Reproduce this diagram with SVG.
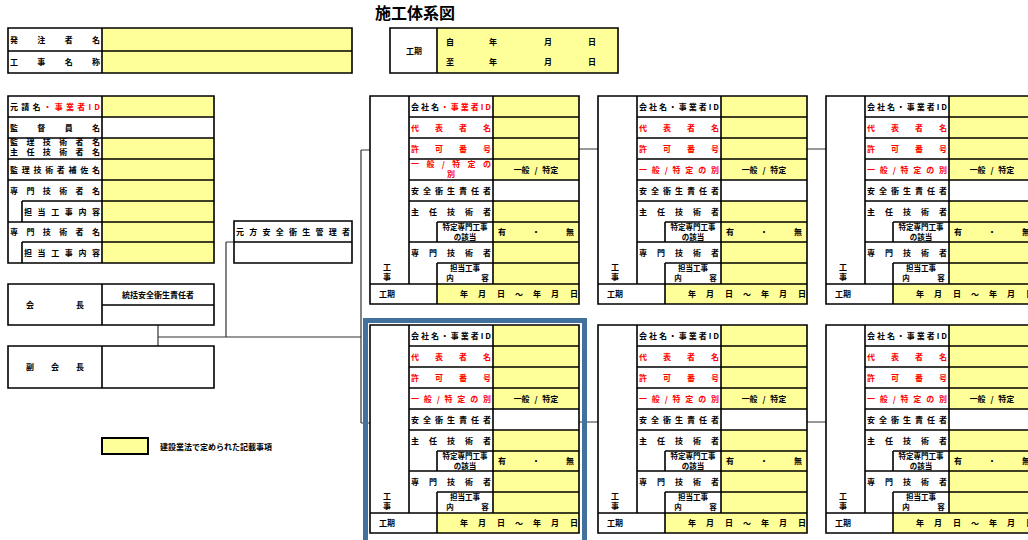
<svg xmlns="http://www.w3.org/2000/svg" xmlns:xlink="http://www.w3.org/1999/xlink" width="1028" height="540" viewBox="0 0 1028 540">
<style>
.t{font-family:"Noto Sans CJK JP","Noto Sans CJK SC",sans-serif;font-size:8px;font-weight:bold;fill:#000}
.s{font-size:7.5px}
.c{text-anchor:middle}
.r{fill:#ff0000}
.ws{word-spacing:3px}
.title{font-family:"Noto Sans CJK JP","Noto Sans CJK SC",sans-serif;font-size:16px;font-weight:bold;fill:#000;text-anchor:middle}
.y{fill:#ffff99;stroke:none}
.w{fill:#fff;stroke:none}
.ln{stroke:#000;stroke-width:1.6;fill:none}
.cn{stroke:#333;stroke-width:1.2;fill:none}
.hl{stroke:#41719c;stroke-width:5;fill:none}
</style>
<defs>
<g id="cardBase">
  <rect class="w" x="0" y="0" width="209" height="208"/>
  <rect class="y" x="123" y="0" width="86" height="84"/>
  <rect class="y" x="123" y="105" width="86" height="83"/>
  <rect class="y" x="67" y="188" width="142" height="20"/>
  <path class="ln" d="M0 0H209V208H0Z M39 0V188 M123 0V188 M67 126V146 M67 167V208 M39 21H209 M39 42H209 M39 63H209 M39 84H209 M39 105H209 M67 126H209 M39 146H209 M67 167H209 M0 188H209"/>
  <text class="t r" x="41" y="34.5" textLength="80" lengthAdjust="spacing">代表者名</text>
  <text class="t r" x="41" y="55.5" textLength="80" lengthAdjust="spacing">許可番号</text>
  <text class="t c ws" x="166" y="76.5">一般 / 特定</text>
  <text class="t" x="41" y="97.5" textLength="80" lengthAdjust="spacing">安全衛生責任者</text>
  <text class="t" x="41" y="118.5" textLength="80" lengthAdjust="spacing">主任技術者</text>
  <text class="t s c" x="95" y="134">特定専門工事</text>
  <text class="t s c" x="95" y="144">の該当</text>
  <text class="t c" x="132" y="139">有</text>
  <text class="t c" x="166" y="139">・</text>
  <text class="t c" x="200" y="139">無</text>
  <text class="t" x="41" y="159.5" textLength="80" lengthAdjust="spacing">専門技術者</text>
  <text class="t s c" x="95" y="175">担当工事</text>
  <text class="t s c" x="80" y="185">内</text>
  <text class="t s c" x="115" y="185">容</text>
  <text class="t c" x="17" y="174">工</text>
  <text class="t c" x="17" y="184">事</text>
  <text class="t c" x="17" y="201">工期</text>
  <text class="t c" x="94" y="201">年</text>
  <text class="t c" x="112" y="201">月</text>
  <text class="t c" x="131" y="201">日</text>
  <text class="t c" x="149" y="201">〜</text>
  <text class="t c" x="167" y="201">年</text>
  <text class="t c" x="185" y="201">月</text>
  <text class="t c" x="204" y="201">日</text>
</g>
<g id="cardStd">
  <use xlink:href="#cardBase"/>
  <text class="t" x="41" y="13.5" textLength="80" lengthAdjust="spacing">会社名・事業者ID</text>
  <text class="t r" x="41" y="76.5" textLength="80" lengthAdjust="spacing">一般/特定の別</text>
</g>
</defs>

<text class="title" x="415" y="19">施工体系図</text>

<g id="connectors">
  <path class="cn" d="M158 325V346 M158 337H361 M226 242V337 M226 242H234 M361 150V423 M361 150H370 M361 423H370"/>
  <path class="cn" d="M579 149H598 M807 149H826 M579 422H598 M807 422H826"/>
</g>

<g id="project-info">
  <rect class="y" x="102" y="28" width="250" height="45"/>
  <path class="ln" d="M8 28H352V73H8Z M102 28V73 M8 51H352"/>
  <text class="t" x="10" y="42.5" textLength="90" lengthAdjust="spacing">発注者名</text>
  <text class="t" x="10" y="65" textLength="90" lengthAdjust="spacing">工事名称</text>
</g>

<g id="period">
  <rect class="y" x="437" y="28" width="181" height="45"/>
  <path class="ln" d="M390 28H618V73H390Z M437 28V73"/>
  <text class="t c" x="414" y="54">工期</text>
  <text class="t c" x="450" y="45">自</text>
  <text class="t c" x="493" y="45">年</text>
  <text class="t c" x="548" y="45">月</text>
  <text class="t c" x="592" y="45">日</text>
  <text class="t c" x="450" y="65">至</text>
  <text class="t c" x="493" y="65">年</text>
  <text class="t c" x="548" y="65">月</text>
  <text class="t c" x="592" y="65">日</text>
</g>

<g id="prime-contractor">
  <rect class="y" x="102" y="96" width="112" height="21"/>
  <rect class="y" x="102" y="138" width="112" height="125"/>
  <path class="ln" d="M8 96H214V263H8Z M102 96V263 M8 117H214 M8 138H214 M8 159H214 M8 180H214 M22 201H214 M8 222H214 M22 242H214 M22 201V222 M22 242V263"/>
  <text class="t" x="10" y="109.5" textLength="90" lengthAdjust="spacing">元請名<tspan class="r">・事業者ID</tspan></text>
  <text class="t" x="10" y="130.5" textLength="90" lengthAdjust="spacing">監督員名</text>
  <text class="t" x="10" y="145" textLength="90" lengthAdjust="spacing">監理技術者名</text>
  <text class="t" x="10" y="155" textLength="90" lengthAdjust="spacing">主任技術者名</text>
  <text class="t" x="10" y="172.5" textLength="90" lengthAdjust="spacing">監理技術者補佐名</text>
  <text class="t" x="10" y="193.5" textLength="90" lengthAdjust="spacing">専門技術者名</text>
  <text class="t" x="24" y="214.5" textLength="76" lengthAdjust="spacing">担当工事内容</text>
  <text class="t" x="10" y="235" textLength="90" lengthAdjust="spacing">専門技術者名</text>
  <text class="t" x="24" y="255.5" textLength="76" lengthAdjust="spacing">担当工事内容</text>
</g>

<g id="safety-manager">
  <rect class="w" x="234" y="221" width="118" height="42"/>
  <path class="ln" d="M234 221H352V263H234Z M234 242H352"/>
  <text class="t" x="236" y="234.5" textLength="114" lengthAdjust="spacing">元方安全衛生管理者</text>
</g>

<g id="chairman">
  <path class="ln" d="M8 284H214V325H8Z M102 284V325 M102 305H214"/>
  <text class="t c" x="30" y="308">会</text>
  <text class="t c" x="80" y="308">長</text>
  <text class="t c" x="158" y="298">統括安全衛生責任者</text>
</g>

<g id="vice-chairman">
  <path class="ln" d="M8 346H214V388H8Z M102 346V388"/>
  <text class="t c" x="30" y="370">副</text>
  <text class="t c" x="55" y="370">会</text>
  <text class="t c" x="80" y="370">長</text>
</g>

<g id="legend">
  <rect x="102" y="438" width="46" height="16" fill="#ffff99" stroke="#000" stroke-width="2"/>
  <text class="t" x="160" y="449.5">建設業法で定められた記載事項</text>
</g>

<g id="card1" transform="translate(370,96)">
  <use xlink:href="#cardBase"/>
  <text class="t" x="41" y="13.5" textLength="80" lengthAdjust="spacing">会社名<tspan class="r">・事業者ID</tspan></text>
  <text class="t r" x="41" y="71" textLength="80" lengthAdjust="spacing">一般/特定の</text>
  <text class="t r c" x="81" y="81">別</text>
</g>
<g id="card2" transform="translate(598,96)"><use xlink:href="#cardStd"/></g>
<g id="card3" transform="translate(826,96)"><use xlink:href="#cardStd"/></g>
<g id="card4" transform="translate(370,325)"><use xlink:href="#cardStd"/></g>
<g id="card5" transform="translate(598,325)"><use xlink:href="#cardStd"/></g>
<g id="card6" transform="translate(826,325)"><use xlink:href="#cardStd"/></g>

<g id="highlight">
  <rect class="hl" x="365.5" y="320.5" width="219" height="230"/>
</g>
</svg>
